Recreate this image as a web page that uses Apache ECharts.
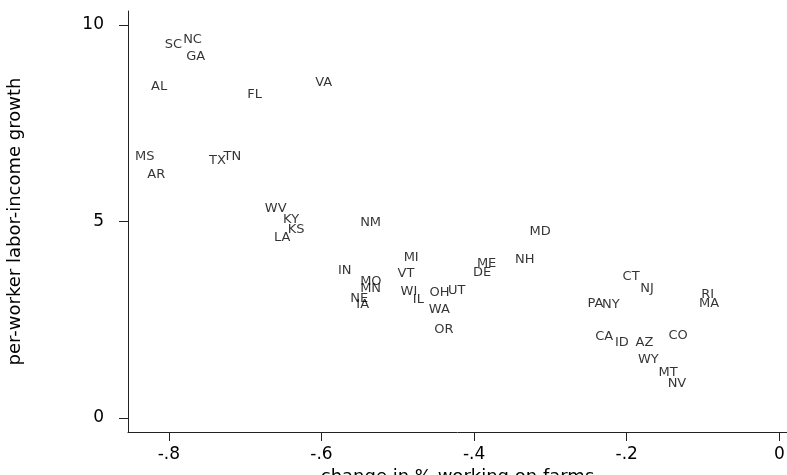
<!DOCTYPE html>
<html>
<head>
<meta charset="utf-8">
<script src="https://cdn.jsdelivr.net/npm/echarts@6/dist/echarts.min.js"></script>
<style>
  html, body { margin: 0; padding: 0; background: #fff; }
  #chart { width: 787px; height: 475px; }
</style>
</head>
<body>
<div id="chart"></div>
<script>
// state labels and their (x, y) positions
const states = ["SC", "NC", "GA", "AL", "FL", "VA", "MS", "AR", "TX", "TN",
  "WV", "KY", "KS", "LA", "NM", "IN", "MO", "MN", "NE", "IA",
  "MI", "VT", "WI", "IL", "OH", "UT", "WA", "OR", "ME", "DE", "NH", "MD",
  "CT", "NJ", "PA", "NY", "RI", "MA", "CA", "ID", "AZ", "CO", "WY", "MT", "NV"]
const farmChange = [-0.806, -0.782, -0.778, -0.824, -0.698, -0.609, -0.845, -0.829, -0.748, -0.729,
  -0.675, -0.651, -0.645, -0.663, -0.550, -0.579, -0.550, -0.550, -0.563, -0.555,
  -0.493, -0.501, -0.497, -0.481, -0.459, -0.435, -0.460, -0.453, -0.397, -0.402, -0.347, -0.328,
  -0.206, -0.183, -0.252, -0.233, -0.103, -0.106, -0.242, -0.216, -0.189, -0.146, -0.186, -0.159, -0.147]
const incomeGrowth = [9.51, 9.62, 9.19, 8.43, 8.22, 8.53, 6.65, 6.19, 6.54, 6.65,
  5.32, 5.04, 4.79, 4.59, 4.96, 3.76, 3.47, 3.29, 3.03, 2.88,
  4.07, 3.67, 3.22, 3.01, 3.20, 3.24, 2.75, 2.25, 3.92, 3.70, 4.04, 4.74,
  3.59, 3.28, 2.91, 2.88, 3.13, 2.92, 2.07, 1.92, 1.92, 2.09, 1.48, 1.16, 0.87]

const xTicks = [-0.8, -0.6, -0.4, -0.2, 0]
const xTickLabels = ["-.8", "-.6", "-.4", "-.2", "0"]
const yTicks = [0, 5, 10]
const yTickLabels = ["0", "5", "10"]

const font = "DejaVu Sans, sans-serif"

let myChart = echarts.init(document.getElementById("chart"))

let points = states.map((s, i) => ({ name: s, value: [farmChange[i], incomeGrowth[i]] }))

myChart.setOption({
  animation: false,
  backgroundColor: "#fff",
  grid: {
    left: 128,
    right: 0,
    top: 11,
    bottom: 43,
    containLabel: false,
    outerBoundsMode: "none",
  },
  xAxis: {
    type: "value",
    min: -0.8536,
    max: 0.0101,
    name: "change in % working on farms",
    nameLocation: "middle",
    nameGap: 26,
    nameTextStyle: { fontFamily: font, fontSize: 18, color: "#000" },
    axisLine: { onZero: false, lineStyle: { color: "#222", width: 1 } },
    axisTick: { show: true, length: 9, customValues: xTicks, lineStyle: { color: "#222" } },
    axisLabel: {
      customValues: xTicks,
      margin: 14,
      fontFamily: font,
      fontSize: 17,
      color: "#000",
      formatter: (v) => xTickLabels[xTicks.findIndex((t) => Math.abs(t - v) < 1e-6)],
    },
    splitLine: { show: false },
  },
  yAxis: {
    type: "value",
    min: -0.356,
    max: 10.356,
    name: "per-worker labor-income growth",
    nameLocation: "middle",
    nameGap: 104,
    nameTextStyle: { fontFamily: font, fontSize: 18, color: "#000" },
    axisLine: { show: true, onZero: false, lineStyle: { color: "#222", width: 1 } },
    axisTick: { show: true, length: 9, customValues: yTicks, lineStyle: { color: "#222" } },
    axisLabel: {
      customValues: yTicks,
      margin: 24,
      fontFamily: font,
      fontSize: 17,
      color: "#000",
      formatter: (v) => yTickLabels[yTicks.findIndex((t) => Math.abs(t - v) < 1e-6)],
    },
    splitLine: { show: false },
  },
  series: [
    {
      type: "scatter",
      data: points,
      symbolSize: 1,
      itemStyle: { color: "rgba(0,0,0,0)" },
      label: {
        show: true,
        position: "right",
        distance: 0,
        formatter: (p) => p.name,
        fontFamily: font,
        fontSize: 13,
        color: "#000",
      },
    },
  ],
})
</script>
</body>
</html>
